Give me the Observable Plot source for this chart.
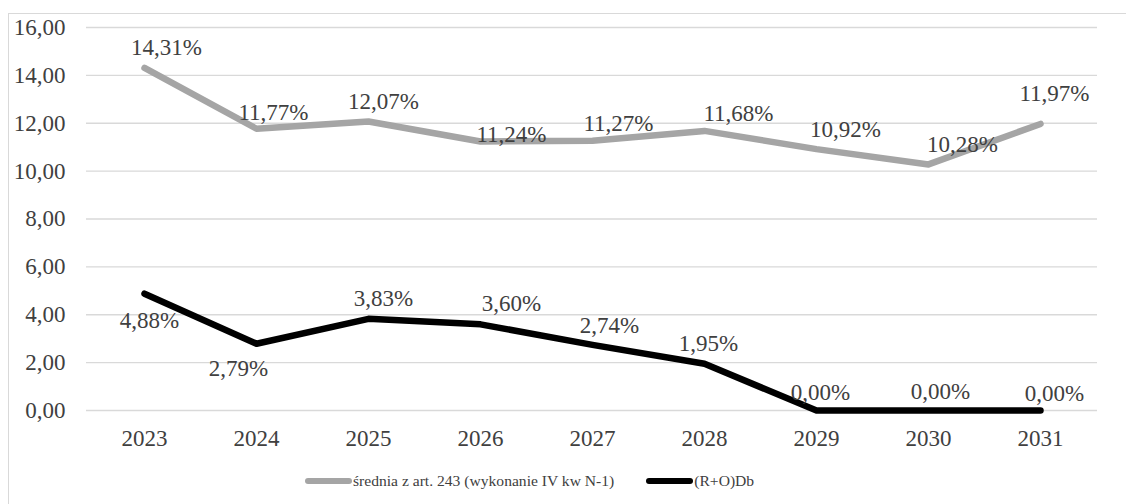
<!DOCTYPE html>
<html>
<head>
<meta charset="utf-8">
<script src="https://cdn.jsdelivr.net/npm/d3@7"></script>
<script src="https://cdn.jsdelivr.net/npm/@observablehq/plot@0.6"></script>
<style>
  html, body { margin: 0; padding: 0; background: #ffffff; }
  body { font-family: "Liberation Serif"; overflow: hidden; }
  #frame { position: absolute; left: 8px; top: 13px; width: 1200px; height: 600px;
           border: 1.5px solid #d9d9d9; box-sizing: border-box; background: transparent; }
  #legend { position: absolute; left: 305px; top: 471px; height: 20px; display: flex;
            align-items: center; font-size: 15.6px; color: #404040; white-space: nowrap; }
  .sw { display: inline-block; width: 47px; height: 6px; border-radius: 3px; margin-right: 1px; }
  .item { display: flex; align-items: center; }
</style>
</head>
<body>
<div id="chart"></div>
<div id="frame"></div>
<div id="legend"></div>
<script>
// ---- data ----
const years = ["2023", "2024", "2025", "2026", "2027", "2028", "2029", "2030", "2031"];
const sredniaValues = [14.31, 11.77, 12.07, 11.24, 11.27, 11.68, 10.92, 10.28, 11.97];
const roDbValues = [4.88, 2.79, 3.83, 3.60, 2.74, 1.95, 0.00, 0.00, 0.00];
const seriesNames = ["średnia z art. 243 (wykonanie IV kw N-1)", "(R+O)Db"];
const yTicks = [0, 2, 4, 6, 8, 10, 12, 14, 16];

// ---- layout / style ----
const colors = ["#a5a5a5", "#000000"];
const textColor = "#404040";
const font = "Liberation Serif";
const fs = 23;
// label offsets (dx, dy) relative to each point, mimicking the original placement
const grayOffsets = [[22,-20],[17,-16],[15,-20],[31,-7],[26,-17],[34,-17],[29,-19],[34,-20],[14,-30]];
const blackOffsets = [[5,27],[-18,25],[15,-20],[31,-21],[17,-19],[4,-20],[4,-18],[12,-19],[14,-17]];

const fmt = v => v.toFixed(2).replace(".", ",");
const grayData = years.map((year, i) => ({year, value: sredniaValues[i]}));
const blackData = years.map((year, i) => ({year, value: roDbValues[i]}));

const labelMarks = [];
grayData.forEach((d, i) => labelMarks.push(Plot.text([d], {
  x: "year", y: "value", text: r => fmt(r.value) + "%", fontFamily: font,
  dx: grayOffsets[i][0], dy: grayOffsets[i][1], fill: textColor, fontSize: fs
})));
blackData.forEach((d, i) => labelMarks.push(Plot.text([d], {
  x: "year", y: "value", text: r => fmt(r.value) + "%", fontFamily: font,
  dx: blackOffsets[i][0], dy: blackOffsets[i][1], fill: textColor, fontSize: fs
})));

const chart = Plot.plot({
  width: 1126,
  height: 450,
  marginLeft: 86,
  marginRight: 29,
  marginTop: 27,
  marginBottom: 40,
  x: {type: "point", domain: years, padding: 0.5},
  y: {domain: [0, 16]},
  marks: [
    Plot.gridY(yTicks, {stroke: "#d9d9d9", strokeOpacity: 1, strokeWidth: 1.4}),
    Plot.axisY(yTicks, {tickSize: 0, tickPadding: 21, tickFormat: fmt, fontSize: fs,
      fontFamily: font, fill: textColor, label: null}),
    Plot.axisX({tickSize: 0, tickPadding: 19, fontSize: fs, fontFamily: font,
      fill: textColor, label: null}),
    Plot.lineY(grayData, {x: "year", y: "value", stroke: colors[0], strokeWidth: 6.5,
      strokeLinecap: "round", strokeLinejoin: "round"}),
    Plot.lineY(blackData, {x: "year", y: "value", stroke: colors[1], strokeWidth: 6.5,
      strokeLinecap: "round", strokeLinejoin: "round"}),
    ...labelMarks
  ]
});
document.getElementById("chart").appendChild(chart);

// ---- legend ----
const legend = document.getElementById("legend");
seriesNames.forEach((name, i) => {
  const item = document.createElement("div");
  item.className = "item";
  if (i > 0) item.style.marginLeft = "32px";
  const sw = document.createElement("span");
  sw.className = "sw";
  sw.style.background = colors[i];
  const t = document.createElement("span");
  t.textContent = name;
  item.appendChild(sw);
  item.appendChild(t);
  legend.appendChild(item);
});
</script>
</body>
</html>
